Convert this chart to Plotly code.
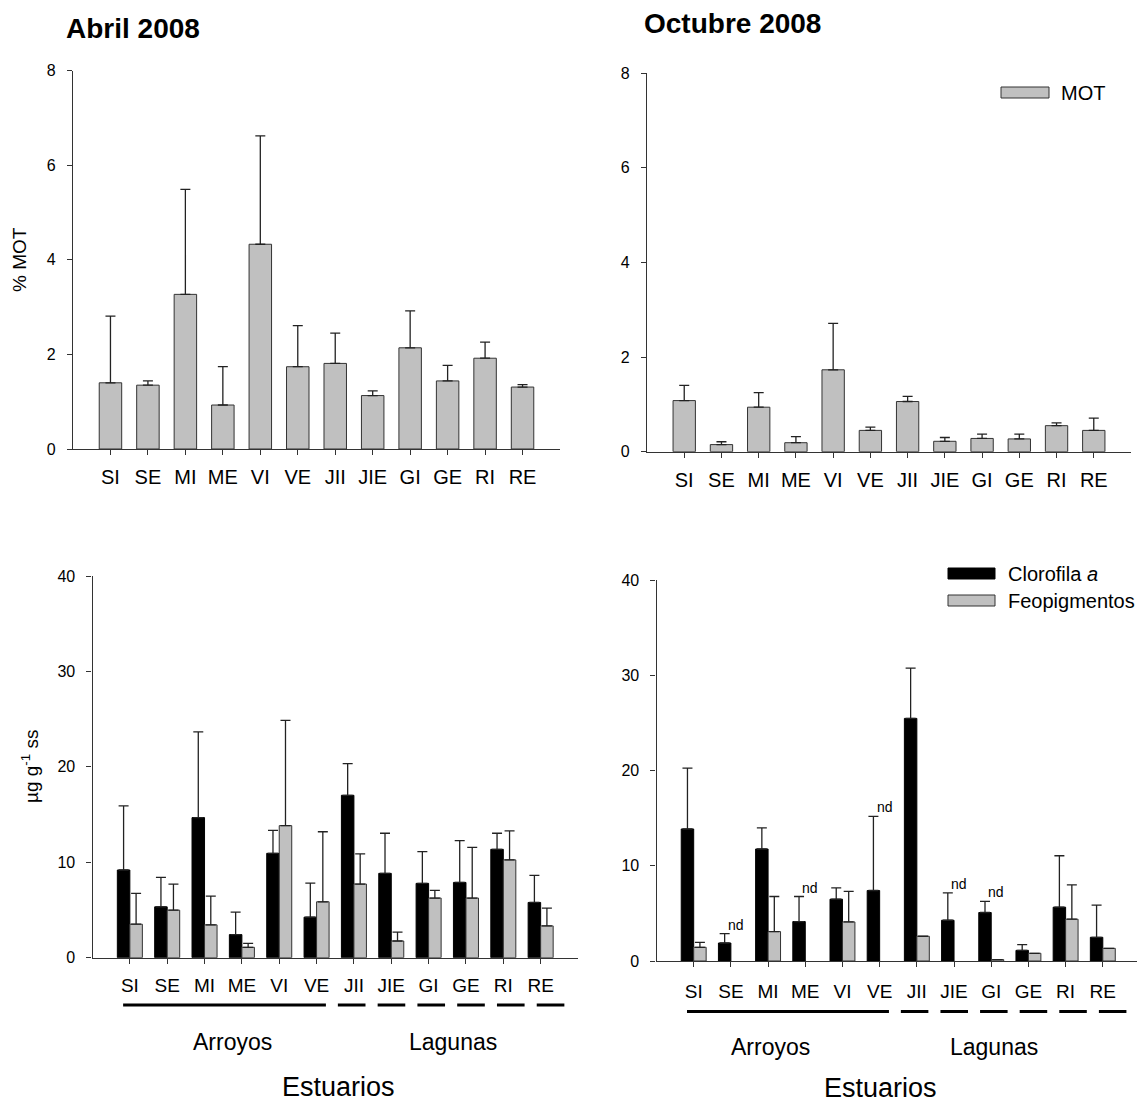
import plotly.graph_objects as go

# The page body has an 8 px default margin, so the figure is drawn 8 px smaller
# and all reference pixel positions are shifted by that offset.
PAGE_W, PAGE_H = 1145, 1104
OFF = 8
W, H = PAGE_W - OFF, PAGE_H - OFF
FONT = "Liberation Sans, Arial, sans-serif"

# ---------------- data ----------------
categories = ["SI", "SE", "MI", "ME", "VI", "VE", "JII", "JIE", "GI", "GE", "RI", "RE"]
arroyos = categories[:6]
lagunas = categories[6:]

# % MOT (materia orgánica total), mean and upper error
mot_abril = [1.40, 1.35, 3.27, 0.93, 4.33, 1.74, 1.81, 1.13, 2.14, 1.44, 1.92, 1.31]
mot_abril_err = [1.41, 0.09, 2.22, 0.81, 2.29, 0.87, 0.64, 0.10, 0.78, 0.33, 0.34, 0.05]
mot_oct = [1.08, 0.15, 0.94, 0.19, 1.73, 0.45, 1.06, 0.22, 0.28, 0.27, 0.55, 0.45]
mot_oct_err = [0.32, 0.06, 0.31, 0.13, 0.98, 0.07, 0.11, 0.08, 0.09, 0.10, 0.06, 0.26]

# Clorofila a and Feopigmentos (µg g-1 ss)
chl_abril = [9.19, 5.33, 14.68, 2.42, 10.94, 4.25, 17.02, 8.84, 7.79, 7.89, 11.36, 5.79]
chl_abril_err = [6.71, 3.09, 8.98, 2.35, 2.41, 3.57, 3.32, 4.20, 3.32, 4.38, 1.68, 2.84]
feo_abril = [3.51, 4.98, 3.44, 1.09, 13.84, 5.86, 7.72, 1.75, 6.25, 6.25, 10.25, 3.33]
feo_abril_err = [3.23, 2.74, 3.02, 0.42, 11.04, 7.34, 3.15, 0.92, 0.80, 5.32, 3.05, 1.86]

chl_oct = [13.86, 1.89, 11.76, 4.14, 6.49, 7.40, 25.47, 4.28, 5.09, 1.12, 5.65, 2.49]
chl_oct_err = [6.38, 0.99, 2.21, 2.63, 1.19, 7.79, 5.27, 2.88, 1.16, 0.60, 5.40, 3.37]
feo_oct = [1.44, None, 3.09, None, 4.10, None, 2.60, None, 0.15, 0.81, 4.39, 1.33]
feo_oct_err = [0.52, 0, 3.68, 0, 3.20, 0, 0, 0, 0, 0, 3.61, 0]
nd_oct = ["SE", "ME", "VE", "JIE", "GI"]  # feopigmentos no detectados

mot_ticks = [0, 2, 4, 6, 8]
pig_ticks = [0, 10, 20, 30, 40]

GREY = "#c0c0c0"
EDGE = "#333333"
AXC = "#333333"


def px(x):
    return (x - OFF) / W


def py(y):
    return 1 - (y - OFF) / H


def err(vals):
    return dict(type="data", symmetric=False, array=vals,
                arrayminus=[0] * len(vals), color="#222222",
                thickness=1.3, width=5, visible=True)


fig = go.Figure()

# top panels
fig.add_trace(go.Bar(x=categories, y=mot_abril, width=0.6, marker=dict(color=GREY, line=dict(color=EDGE, width=1)),
                     error_y=err(mot_abril_err), xaxis="x", yaxis="y", showlegend=False))
fig.add_trace(go.Bar(x=categories, y=mot_oct, width=0.6, marker=dict(color=GREY, line=dict(color=EDGE, width=1)),
                     error_y=err(mot_oct_err), xaxis="x2", yaxis="y2", showlegend=False))

# bottom panels
BW = 0.335
for chl, chl_e, feo, feo_e, xa, ya in [
    (chl_abril, chl_abril_err, feo_abril, feo_abril_err, "x3", "y3"),
    (chl_oct, chl_oct_err, feo_oct, feo_oct_err, "x4", "y4"),
]:
    fig.add_trace(go.Bar(x=categories, y=chl, width=BW, offset=-BW,
                         marker=dict(color="#000000", line=dict(color="#000000", width=1)),
                         error_y=err(chl_e), xaxis=xa, yaxis=ya, showlegend=False))
    fig.add_trace(go.Bar(x=categories, y=feo, width=BW, offset=0,
                         marker=dict(color=GREY, line=dict(color=EDGE, width=1)),
                         error_y=err(feo_e), xaxis=xa, yaxis=ya, showlegend=False))

xcommon = dict(type="category", range=[-1, 12], showline=True, linecolor=AXC, linewidth=1.2,
               ticks="outside", ticklen=5, tickcolor=AXC, tickwidth=1.2, showgrid=False,
               zeroline=False, tickfont=dict(family=FONT, size=20, color="#000"),
               categoryorder="array", categoryarray=categories, automargin=False)
ycommon = dict(showline=True, linecolor=AXC, linewidth=1.2, ticks="outside", ticklen=5,
               tickcolor=AXC, tickwidth=1.2, showgrid=False, zeroline=False, automargin=False,
               tickfont=dict(family=FONT, size=16, color="#000"), ticklabelstandoff=8)

fig.update_layout(
    width=W, height=H, margin=dict(l=0, r=0, t=0, b=0),
    plot_bgcolor="white", paper_bgcolor="white",
    barmode="overlay", showlegend=False,
    font=dict(family=FONT, color="#000"),
    xaxis=dict(xcommon, domain=[px(73), px(560)], anchor="y", ticklabelstandoff=5),
    yaxis=dict(ycommon, domain=[py(449), py(70.7)], range=[0, 8], tickvals=mot_ticks, anchor="x"),
    xaxis2=dict(xcommon, domain=[px(647), px(1131)], anchor="y2", ticklabelstandoff=5),
    yaxis2=dict(ycommon, domain=[py(451.7), py(73)], range=[0, 8], tickvals=mot_ticks, anchor="x2"),
    xaxis3=dict(xcommon, domain=[px(92.5), px(578)], anchor="y3", ticklabelstandoff=5,
                tickfont=dict(family=FONT, size=19, color="#000")),
    yaxis3=dict(ycommon, domain=[py(957.7), py(576)], range=[0, 40], tickvals=pig_ticks, anchor="x3"),
    xaxis4=dict(xcommon, domain=[px(656.5), px(1140)], anchor="y4", ticklabelstandoff=8,
                tickfont=dict(family=FONT, size=19, color="#000")),
    yaxis4=dict(ycommon, domain=[py(961), py(580)], range=[0, 40], tickvals=pig_ticks, anchor="x4"),
)

ann = []
# titles
ann.append(dict(text="<b>Abril 2008</b>", x=px(64), y=py(29), xref="paper", yref="paper",
                xanchor="left", yanchor="middle", showarrow=False, font=dict(size=28)))
ann.append(dict(text="<b>Octubre 2008</b>", x=px(642), y=py(23), xref="paper", yref="paper",
                xanchor="left", yanchor="middle", showarrow=False, font=dict(size=28)))
# y titles
ann.append(dict(text="% MOT", x=px(19), y=py(260), xref="paper", yref="paper", textangle=-90,
                xanchor="center", yanchor="middle", showarrow=False, font=dict(size=19)))
ann.append(dict(text="µg g<sup>-1</sup> ss", x=px(30), y=py(767), xref="paper", yref="paper",
                textangle=-90, xanchor="center", yanchor="middle", showarrow=False, font=dict(size=19)))

# group labels
for (xc_arr, xc_lag, xc_est, y_grp, y_est_bottom) in [
    (233, 452.5, 338.5, 1041.7, 1103),
    (770.7, 994, 880.7, 1046.7, 1103.8),
]:
    ann.append(dict(text="Arroyos", x=px(xc_arr), y=py(y_grp), xref="paper", yref="paper",
                    showarrow=False, xanchor="center", yanchor="middle", font=dict(size=23)))
    ann.append(dict(text="Lagunas", x=px(xc_lag), y=py(y_grp), xref="paper", yref="paper",
                    showarrow=False, xanchor="center", yanchor="middle", font=dict(size=23)))
    ann.append(dict(text="Estuarios", x=px(xc_est), y=py(y_est_bottom), xref="paper", yref="paper",
                    showarrow=False, xanchor="center", yanchor="bottom", borderpad=0,
                    font=dict(size=27)))

# nd labels
for c in nd_oct:
    i = categories.index(c)
    ann.append(dict(text="nd", x=i, y=chl_oct[i] + chl_oct_err[i], xref="x4", yref="y4",
                    showarrow=False, xanchor="center", yanchor="bottom", xshift=5, yshift=-1,
                    font=dict(size=14)))

# legends (manual)
ann.append(dict(text="MOT", x=px(1059), y=py(93), xref="paper", yref="paper", showarrow=False,
                xanchor="left", yanchor="middle", font=dict(size=20)))
ann.append(dict(text="Clorofila <i>a</i>", x=px(1006), y=py(573.5), xref="paper", yref="paper",
                showarrow=False, xanchor="left", yanchor="middle", font=dict(size=20)))
ann.append(dict(text="Feopigmentos", x=px(1006), y=py(600.5), xref="paper", yref="paper",
                showarrow=False, xanchor="left", yanchor="middle", font=dict(size=20)))

shapes = []
shapes.append(dict(type="rect", xref="paper", yref="paper", x0=px(1001), x1=px(1049), y0=py(98), y1=py(87),
                   fillcolor=GREY, line=dict(color=EDGE, width=1)))
shapes.append(dict(type="rect", xref="paper", yref="paper", x0=px(948), x1=px(995), y0=py(579), y1=py(568),
                   fillcolor="#000", line=dict(color="#000", width=1)))
shapes.append(dict(type="rect", xref="paper", yref="paper", x0=px(948), x1=px(995), y0=py(606), y1=py(595),
                   fillcolor=GREY, line=dict(color=EDGE, width=1)))

# group underlines
for xa, yline in [("x3", 1005), ("x4", 1011.5)]:
    i0 = categories.index(arroyos[0])
    i1 = categories.index(arroyos[-1])
    shapes.append(dict(type="line", xref=xa, yref="paper", x0=i0 - 0.18, x1=i1 + 0.25,
                       y0=py(yline), y1=py(yline), line=dict(color="#000", width=3)))
    for c in lagunas:
        i = categories.index(c)
        cen = i - 0.06 + 0.065 * (i - categories.index(lagunas[0]))
        shapes.append(dict(type="line", xref=xa, yref="paper", x0=cen - 0.37, x1=cen + 0.37,
                           y0=py(yline), y1=py(yline), line=dict(color="#000", width=3)))

fig.update_layout(annotations=ann, shapes=shapes)
fig.write_html("out.html")
